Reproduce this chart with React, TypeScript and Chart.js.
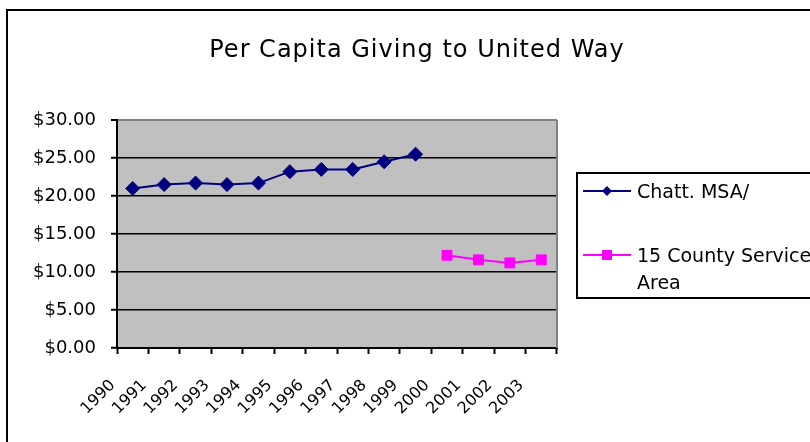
import React, { useEffect, useRef } from "react";
import { Chart, registerables } from "chart.js";

Chart.register(...registerables);

const years = ["1990", "1991", "1992", "1993", "1994", "1995", "1996", "1997", "1998", "1999", "2000", "2001", "2002", "2003"];
const msaValues = [21.0, 21.5, 21.7, 21.5, 21.7, 23.2, 23.5, 23.5, 24.5, 25.5, null, null, null, null];
const countyValues = [null, null, null, null, null, null, null, null, null, null, 12.2, 11.6, 11.2, 11.6];
const msaLabel = "Chatt. MSA/";
const countyLabel = ["15 County Service", "Area"];
const titleText = "Per Capita Giving to United Way";

const FONT = "'DejaVu Sans', sans-serif";

const framePlugin = {
  id: "frame",
  beforeDraw(chart: any) {
    const { ctx, chartArea } = chart;
    ctx.save();
    ctx.fillStyle = "#ffffff";
    ctx.fillRect(0, 0, chart.width, chart.height);
    ctx.fillStyle = "#C0C0C0";
    ctx.fillRect(chartArea.left, chartArea.top, chartArea.right - chartArea.left, chartArea.bottom - chartArea.top);
    ctx.restore();
  },
  afterDraw(chart: any) {
    const { ctx, chartArea } = chart;
    ctx.save();
    // outer border
    ctx.strokeStyle = "#000";
    ctx.lineWidth = 2;
    ctx.strokeRect(7, 10, 900, 500);
    // right border of plot area
    ctx.strokeStyle = "#808080";
    ctx.lineWidth = 2;
    ctx.beginPath();
    ctx.moveTo(chartArea.right, chartArea.top);
    ctx.lineTo(chartArea.right, chartArea.bottom);
    ctx.stroke();
    // title
    ctx.fillStyle = "#000";
    ctx.font = `24px ${FONT}`;
    (ctx as any).letterSpacing = "1px";
    ctx.textAlign = "center";
    ctx.textBaseline = "alphabetic";
    ctx.fillText(titleText, 417, 57);
    (ctx as any).letterSpacing = "0px";
    // legend
    ctx.strokeStyle = "#000";
    ctx.lineWidth = 2;
    ctx.strokeRect(577, 173, 300, 125);
    ctx.font = `19px ${FONT}`;
    ctx.textAlign = "left";
    // item 1
    ctx.strokeStyle = "#000080";
    ctx.lineWidth = 2;
    ctx.beginPath();
    ctx.moveTo(583, 191);
    ctx.lineTo(631, 191);
    ctx.stroke();
    ctx.fillStyle = "#000080";
    ctx.beginPath();
    ctx.moveTo(607, 186);
    ctx.lineTo(612, 191);
    ctx.lineTo(607, 196);
    ctx.lineTo(602, 191);
    ctx.closePath();
    ctx.fill();
    ctx.fillStyle = "#000";
    ctx.fillText(msaLabel, 637, 198);
    // item 2
    ctx.strokeStyle = "#FF00FF";
    ctx.beginPath();
    ctx.moveTo(583, 255);
    ctx.lineTo(631, 255);
    ctx.stroke();
    ctx.fillStyle = "#FF00FF";
    ctx.fillRect(602, 250, 10, 10);
    ctx.fillStyle = "#000";
    ctx.fillText(countyLabel[0], 637, 262);
    ctx.fillText(countyLabel[1], 637, 289);
    ctx.restore();
  },
};

export default function App() {
  const ref = useRef<HTMLCanvasElement | null>(null);
  useEffect(() => {
    if (!ref.current) return;
    const chart = new Chart(ref.current, {
      type: "line",
      data: {
        labels: years,
        datasets: [
          {
            label: msaLabel,
            data: msaValues,
            borderColor: "#000080",
            backgroundColor: "#000080",
            borderWidth: 2,
            pointStyle: "rectRot",
            pointRadius: 7,
            pointBorderWidth: 1,
            spanGaps: false,
          },
          {
            label: countyLabel.join(" "),
            data: countyValues,
            borderColor: "#FF00FF",
            backgroundColor: "#FF00FF",
            borderWidth: 2,
            pointStyle: "rect",
            pointRadius: 7,
            pointBorderWidth: 1,
            spanGaps: false,
          },
        ],
      },
      options: {
        responsive: false,
        animation: false,
        layout: { padding: { left: 0, top: 120, right: 253, bottom: 0 } },
        plugins: {
          legend: { display: false },
          title: { display: false },
          tooltip: { enabled: false },
        },
        scales: {
          x: {
            type: "category",
            offset: true,
            afterFit: (s: any) => {
              s.height = 94;
            },
            grid: {
              display: true,
              offset: true,
              drawOnChartArea: false,
              drawTicks: true,
              tickLength: 6,
              tickColor: "#000",
              tickWidth: 2,
              color: "#000",
            },
            border: { display: true, color: "#000", width: 2 },
            ticks: {
              autoSkip: false,
              maxRotation: 45,
              minRotation: 45,
              color: "#000",
              font: { family: FONT, size: 16 },
              padding: 22,
              labelOffset: -20,
            },
          },
          y: {
            min: 0,
            max: 30,
            afterFit: (s: any) => {
              s.width = 117;
            },
            grid: {
              color: (c: any) => (c.tick && c.tick.value === 30 ? "#808080" : "#000"),
              lineWidth: (c: any) => (c.tick && c.tick.value === 30 ? 2 : 1.5),
              tickColor: "#000",
              tickLength: 6,
              tickWidth: 2,
            },
            border: { display: true, color: "#000", width: 2 },
            ticks: {
              stepSize: 5,
              color: "#000",
              padding: 15,
              font: { family: FONT, size: 18 },
              callback: (v: any) => "$" + Number(v).toFixed(2),
            },
          },
        },
      },
      plugins: [framePlugin],
    });
    return () => chart.destroy();
  }, []);
  return (
    <div style={{ position: "absolute", left: 0, top: 0, width: 810, height: 442, overflow: "hidden" }}>
      <canvas ref={ref} width={810} height={442} style={{ display: "block", width: 810, height: 442 }} />
    </div>
  );
}
